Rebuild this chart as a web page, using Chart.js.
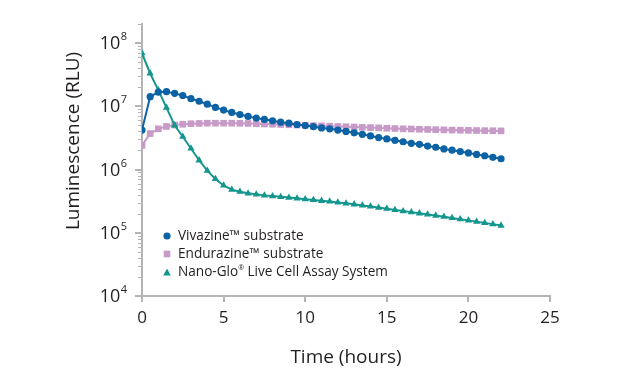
<!DOCTYPE html>
<html><head><meta charset="utf-8">
<script src="https://cdn.jsdelivr.net/npm/chart.js@4.4.1/dist/chart.umd.min.js"></script>
<style>html,body{margin:0;padding:0;background:#fff}#wrap{width:618px;height:385px;position:relative}</style>
</head><body><div id="wrap"><canvas id="c" width="618" height="385"></canvas></div>
<script>
// ---- data ----
const hours = [0,0.5,1,1.5,2,2.5,3,3.5,4,4.5,5,5.5,6,6.5,7,7.5,8,8.5,9,9.5,10,10.5,11,11.5,12,12.5,13,13.5,14,14.5,15,15.5,16,16.5,17,17.5,18,18.5,19,19.5,20,20.5,21,21.5,22];
const vivazine = [4.2e6,1.42e7,1.68e7,1.7e7,1.6e7,1.48e7,1.32e7,1.2e7,1.08e7,9.6e6,8.7e6,8.0e6,7.4e6,6.9e6,6.5e6,6.2e6,5.9e6,5.6e6,5.4e6,5.15e6,4.95e6,4.75e6,4.55e6,4.4e6,4.2e6,4.0e6,3.8e6,3.6e6,3.4e6,3.2e6,3.05e6,2.9e6,2.75e6,2.6e6,2.5e6,2.35e6,2.25e6,2.12e6,2.02e6,1.92e6,1.83e6,1.73e6,1.65e6,1.56e6,1.48e6];
const endurazine = [2.4e6,3.7e6,4.4e6,4.8e6,5.05e6,5.2e6,5.3e6,5.35e6,5.4e6,5.4e6,5.4e6,5.4e6,5.38e6,5.35e6,5.3e6,5.25e6,5.2e6,5.15e6,5.1e6,5.05e6,5.0e6,4.95e6,4.9e6,4.85e6,4.8e6,4.75e6,4.7e6,4.65e6,4.6e6,4.55e6,4.5e6,4.45e6,4.4e6,4.37e6,4.33e6,4.3e6,4.27e6,4.24e6,4.2e6,4.18e6,4.16e6,4.14e6,4.12e6,4.1e6,4.08e6];
const nanoGlo = [6.9e7,3.3e7,1.8e7,9.5e6,5.0e6,3.3e6,2.15e6,1.4e6,9.6e5,7.1e5,5.6e5,4.8e5,4.45e5,4.2e5,4.05e5,3.9e5,3.8e5,3.7e5,3.6e5,3.5e5,3.4e5,3.3e5,3.2e5,3.12e5,3.02e5,2.92e5,2.82e5,2.7e5,2.6e5,2.5e5,2.4e5,2.3e5,2.2e5,2.12e5,2.03e5,1.95e5,1.87e5,1.79e5,1.71e5,1.64e5,1.57e5,1.5e5,1.43e5,1.37e5,1.3e5];
const seriesNames = ['Vivazine\u2122 substrate','Endurazine\u2122 substrate','Nano-Glo\u00AE Live Cell Assay System'];
const xTicks = [0,5,10,15,20,25];
const yDecades = [4,5,6,7,8];
const yMin = 1e4, yMax = 2e8;
const xTitle = 'Time (hours)';
const yTitle = 'Luminescence (RLU)';

const FONT = '"Open Sans", "Noto Sans", sans-serif';
const AXIS = '#b4b4b4';
const TXT = '#231f20';
const BLUE = '#0b62a4', PINK = '#c79ac8', TEAL = '#14968e';

function pts(arr){ return hours.map((h,i)=>({x:h,y:arr[i]})); }

const yTickVals = [];
for (const e of yDecades) for (let m=1;m<=9;m++){ const v=m*Math.pow(10,e); if (v<=yMax) yTickVals.push(v); }
yTickVals.push(2e8);

const decorPlugin = {
  id:'decor',
  afterDraw(chart){
    const ctx = chart.ctx, y = chart.scales.y, x = chart.scales.x, ca = chart.chartArea;
    ctx.save();
    // y tick marks
    const ax = ca.left;
    for (const v of yTickVals){
      const py = Math.round(y.getPixelForValue(v));
      const major = Math.abs(Math.log10(v) - Math.round(Math.log10(v))) < 1e-9;
      ctx.strokeStyle = AXIS;
      ctx.lineWidth = major ? 2 : 1;
      ctx.beginPath();
      ctx.moveTo(ax, py + (major?0:0.5));
      ctx.lineTo(ax - (major?7:4), py + (major?0:0.5));
      ctx.stroke();
    }
    // y tick labels 10^n
    ctx.fillStyle = TXT;
    for (const e of yDecades){
      const py = y.getPixelForValue(Math.pow(10,e));
      ctx.font = '11px ' + FONT;
      const ew = ctx.measureText(String(e)).width;
      const right = ax - 15;
      ctx.textAlign = 'left'; ctx.textBaseline = 'middle';
      ctx.fillText(String(e), right - ew, py - 6);
      ctx.font = '18px ' + FONT;
      ctx.textAlign = 'right';
      ctx.fillText('10', right - ew - 0.5, py + 1);
    }
    // axis titles
    ctx.font = '19px ' + FONT;
    ctx.textAlign = 'center'; ctx.textBaseline = 'middle';
    ctx.fillText(xTitle, (ca.left+ca.right)/2, 358);
    ctx.save();
    ctx.translate(74, ca.top + 117);
    ctx.rotate(-Math.PI/2);
    ctx.fillText(yTitle, 0, 0);
    ctx.restore();
    // legend
    const lx = ca.left + 25, tx = ca.left + 36;
    const rows = [ca.bottom - 60, ca.bottom - 42, ca.bottom - 23.5];
    chart.data.datasets.forEach((ds, i) => {
      const cy = rows[i];
      ctx.fillStyle = ds.pointBackgroundColor;
      ctx.beginPath();
      if (ds.pointStyle === 'circle') { ctx.arc(lx, cy, 3.6, 0, Math.PI*2); }
      else if (ds.pointStyle === 'rect') { ctx.rect(lx-3.3, cy-3.3, 6.6, 6.6); }
      else { ctx.moveTo(lx, cy-4); ctx.lineTo(lx+3.8, cy+3); ctx.lineTo(lx-3.8, cy+3); ctx.closePath(); }
      ctx.fill();
      ctx.fillStyle = TXT;
      ctx.textAlign = 'left'; ctx.textBaseline = 'middle';
      const name = seriesNames[i];
      const reg = name.indexOf('\u00AE');
      const F = '13.6px ' + FONT;
      if (reg >= 0) {
        const a = name.slice(0, reg), b = name.slice(reg+1);
        ctx.font = F;
        ctx.fillText(a, tx, cy);
        let wx = tx + ctx.measureText(a).width;
        ctx.font = '7px ' + FONT;
        ctx.fillText('\u00AE', wx, cy - 5);
        wx += ctx.measureText('\u00AE').width;
        ctx.font = F;
        ctx.fillText(b, wx, cy);
      } else {
        ctx.font = F;
        ctx.fillText(name, tx, cy);
      }
    });
    ctx.restore();
  }
};

new Chart(document.getElementById('c'), {
  type:'line',
  data:{ datasets:[
    { label:seriesNames[0], data:pts(vivazine), borderColor:BLUE, backgroundColor:BLUE, pointBackgroundColor:BLUE, pointBorderColor:BLUE, pointStyle:'circle', pointRadius:3.6, pointBorderWidth:0, borderWidth:2, tension:0, order:0 },
    { label:seriesNames[1], data:pts(endurazine), borderColor:PINK, backgroundColor:PINK, pointBackgroundColor:PINK, pointBorderColor:PINK, pointStyle:'rect', pointRadius:4.7, pointBorderWidth:0, borderWidth:2, tension:0, order:2 },
    { label:seriesNames[2], data:pts(nanoGlo), borderColor:TEAL, backgroundColor:TEAL, pointBackgroundColor:TEAL, pointBorderColor:TEAL, pointStyle:'triangle', pointRadius:4.2, pointBorderWidth:0, borderWidth:2, tension:0, order:1 }
  ]},
  options:{
    responsive:false, animation:false, devicePixelRatio:1,
    layout:{ padding:{ left:0, top:24, right:68, bottom:0 } },
    plugins:{ legend:{display:false}, tooltip:{enabled:false} },
    scales:{
      x:{ type:'linear', min:0, max:25,
        afterBuildTicks(s){ s.ticks = xTicks.map(v=>({value:v})); },
        afterFit(s){ s.height = 89; },
        ticks:{ font:{family:FONT, size:17}, color:TXT, padding:6, maxRotation:0, autoSkip:false },
        grid:{ display:true, drawOnChartArea:false, drawTicks:true, tickLength:6, color:AXIS, lineWidth:2 },
        border:{ display:true, color:AXIS, width:2 }
      },
      y:{ type:'logarithmic', min:yMin, max:yMax,
        afterBuildTicks(s){ s.ticks = yTickVals.map(v=>({value:v})); },
        afterFit(s){ s.width = 142; },
        ticks:{ display:false },
        grid:{ display:false },
        border:{ display:true, color:AXIS, width:2 }
      }
    }
  },
  plugins:[decorPlugin]
});
</script></body></html>
